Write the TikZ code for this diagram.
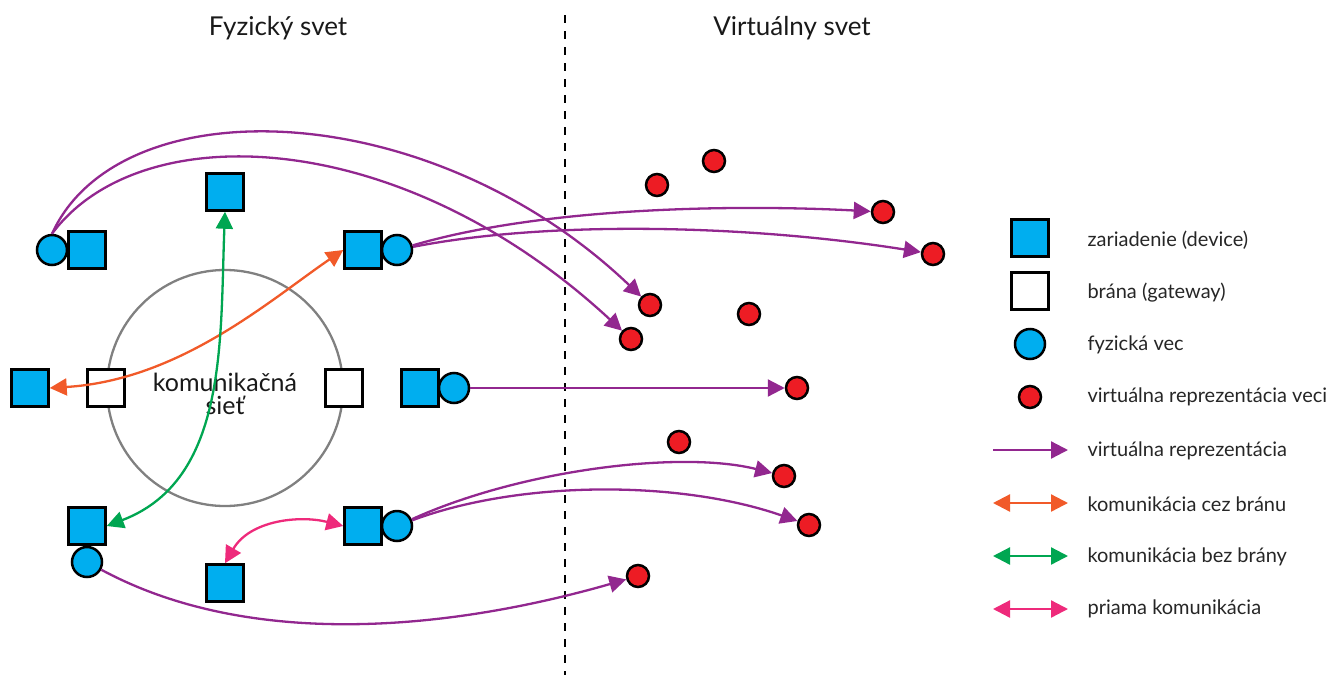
\documentclass[tikz,border=0pt]{standalone}
\usepackage{fontspec}
\setmainfont{Lato}
\usetikzlibrary{arrows.meta}
\definecolor{devblue}{HTML}{00AEEF}
\definecolor{vred}{HTML}{ED1C24}
\definecolor{vpurple}{HTML}{92278F}
\definecolor{corange}{HTML}{F15A29}
\definecolor{cgreen}{HTML}{00A651}
\definecolor{cpink}{HTML}{EE2A7B}
\tikzset{
	dev/.style={draw,line width=2.5pt,fill=devblue,minimum size=37pt,inner sep=0pt},
	gate/.style={draw,line width=2.5pt,fill=white,minimum size=37pt,inner sep=0pt},
	thing/.style={circle,draw,line width=2.5pt,fill=devblue,minimum size=30pt,inner sep=0pt},
	vthing/.style={circle,draw,line width=2.5pt,fill=vred,minimum size=22pt,inner sep=0pt},
	varrow/.style={draw=vpurple,line width=2.3pt,-{Triangle[length=17pt,width=17pt]}},
	oarrow/.style={draw=corange,line width=2.3pt,{Triangle[length=17pt,width=17pt]}-{Triangle[length=17pt,width=17pt]}},
	garrow/.style={draw=cgreen,line width=2.3pt,{Triangle[length=17pt,width=17pt]}-{Triangle[length=17pt,width=17pt]}},
	parrow/.style={draw=cpink,line width=2.3pt,{Triangle[length=17pt,width=17pt]}-{Triangle[length=17pt,width=17pt]}},
	legtext/.style={anchor=west,font=\fontsize{20}{24}\selectfont,text=black!85}
}
\begin{document}
\begin{tikzpicture}[x=1pt,y=-1pt]
	\useasboundingbox (0,0) rectangle (1342,675);

	% titles and border between the two worlds
	\node [font=\fontsize{26}{30}\selectfont,text=black!90] (fyz) at (278,28) {Fyzický svet};
	\node [font=\fontsize{26}{30}\selectfont,text=black!90] (virt) at (792,28) {Virtuálny svet};
	\coordinate (deltop) at (565,15);
	\coordinate (delbot) at (565,675);
	\draw [line width=2.5pt,dash pattern=on 8pt off 8pt] (deltop) -- (delbot);

	% network
	\node [circle,draw=black!50,line width=2.3pt,minimum size=236pt] (net) at (225,388) {};
	\node [font=\fontsize{25}{23}\selectfont,align=center,text=black!90] (nettext) at (225,394) {komunikačná\\sieť};
	\node [gate] (gwl) at (106,388) {};
	\node [gate] (gwr) at (344,388) {};

	% physical things and devices
	\node [dev] (d1) at (225,192) {};
	\node [dev] (d2) at (30,388) {};
	\node [dev] (d3) at (225,583) {};
	\node [thing] (t1) at (52,250) {};
	\node [dev] (d4) at (87,250) {};
	\node [dev] (d5) at (363,250) {};
	\node [thing] (t2) at (397,250) {};
	\node [dev] (d6) at (420,388) {};
	\node [thing] (t3) at (454,388) {};
	\node [dev] (d7) at (87,526) {};
	\node [thing] (t4) at (87,562) {};
	\node [dev] (d8) at (363,526) {};
	\node [thing] (t5) at (397,526) {};

	% virtual things
	\node [vthing] (v1) at (657,185) {};
	\node [vthing] (v2) at (714,161) {};
	\node [vthing] (v3) at (883,212) {};
	\node [vthing] (v4) at (933,254) {};
	\node [vthing] (v5) at (650,305) {};
	\node [vthing] (v6) at (631,339) {};
	\node [vthing] (v7) at (749,314) {};
	\node [vthing] (v8) at (797,388) {};
	\node [vthing] (v9) at (679,442) {};
	\node [vthing] (v10) at (784,476) {};
	\node [vthing] (v11) at (809,525) {};
	\node [vthing] (v12) at (638,576) {};

	% virtual representation
	\draw [varrow] (t1.north) .. controls (120,85) and (430,95) .. (v5);
	\draw [varrow] (t1.north) .. controls (140,115) and (400,125) .. (v6);
	\draw [varrow] (t2) .. controls (550,205) and (750,205) .. (v3);
	\draw [varrow] (t2) .. controls (550,220) and (750,225) .. (v4);
	\draw [varrow] (t3) -- (v8);
	\draw [varrow] (t5) .. controls (520,470) and (680,450) .. (v10);
	\draw [varrow] (t5) .. controls (520,480) and (680,480) .. (v11);
	\draw [varrow] (t4) .. controls (250,650) and (450,630) .. (v12);

	% communication
	\draw [oarrow] (d2.east) .. controls (180,380) and (270,300) .. (d5.west);
	\draw [garrow] (d1.south) .. controls (220,340) and (228,480) .. (d7.east);
	\draw [parrow] (d3.north) .. controls (250,520) and (300,515) .. (d8.west);

	% legend
	\node [dev] (ld) at (1030,238) {};
	\node [gate] (lg) at (1030,291) {};
	\node [thing] (lt) at (1030,344) {};
	\node [vthing] (lv) at (1030,397) {};
	\coordinate (la1) at (993,450); \coordinate (lb1) at (1068,450);
	\coordinate (la2) at (993,503); \coordinate (lb2) at (1068,503);
	\coordinate (la3) at (993,556); \coordinate (lb3) at (1068,556);
	\coordinate (la4) at (993,609); \coordinate (lb4) at (1068,609);
	\draw [varrow] (la1) -- (lb1);
	\draw [oarrow] (la2) -- (lb2);
	\draw [garrow] (la3) -- (lb3);
	\draw [parrow] (la4) -- (lb4);
	\node [legtext] (ltd) at (1084,240) {zariadenie (device)};
	\node [legtext] (ltg) at (1084,293) {brána (gateway)};
	\node [legtext] (ltt) at (1084,345) {fyzická vec};
	\node [legtext] (ltv) at (1084,397) {virtuálna reprezentácia veci};
	\node [legtext] (lt1) at (1084,451) {virtuálna reprezentácia};
	\node [legtext] (lt2) at (1084,504) {komunikácia cez bránu};
	\node [legtext] (lt3) at (1084,557) {komunikácia bez brány};
	\node [legtext] (lt4) at (1084,609) {priama komunikácia};
\end{tikzpicture}
\end{document}
